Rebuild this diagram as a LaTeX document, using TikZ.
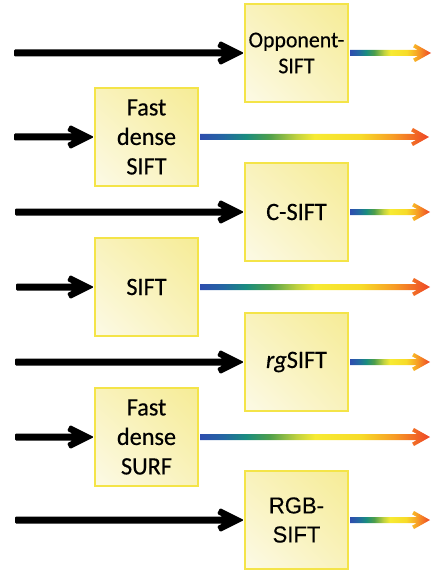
\documentclass[tikz,border=0pt]{standalone}
\usepackage{fontspec}
\setmainfont{Carlito}[FakeStretch=0.97,FakeBold=0.4]
\newfontfamily\arialf{Liberation Sans}[FakeStretch=0.96,FakeBold=0.3]
\usetikzlibrary{calc,shadings}
\definecolor{boxborder}{HTML}{F4E448}
\definecolor{boxUR}{HTML}{F6EC96}
\definecolor{boxMid}{HTML}{F9F2BC}
\definecolor{boxLL}{HTML}{FCFAE6}
\pgfdeclarehorizontalshading{rainbowarr}{100bp}{%
  rgb(0bp)=(0.18,0.30,0.68);
  rgb(25bp)=(0.18,0.30,0.68);
  rgb(30bp)=(0.14,0.40,0.64);
  rgb(35bp)=(0.10,0.55,0.50);
  rgb(40bp)=(0.30,0.62,0.30);
  rgb(46bp)=(0.75,0.82,0.25);
  rgb(50bp)=(0.97,0.92,0.20);
  rgb(60bp)=(0.97,0.86,0.16);
  rgb(67bp)=(0.97,0.62,0.15);
  rgb(75bp)=(0.93,0.27,0.15);
  rgb(100bp)=(0.93,0.27,0.15)}
\tikzset{
  featbox/.style={draw=boxborder, line width=2pt, minimum width=103pt,
    minimum height=98pt, inner sep=0pt, align=center, shade,
    upper right=boxUR, upper left=boxMid, lower right=boxMid, lower left=boxLL,
    font=\fontsize{25}{29.5}\selectfont},
  smalltext/.style={font=\fontsize{22.5}{26}\selectfont},
}
% black input arrow: #1 start coordinate, #2 target node
\newcommand\blackarr[2]{%
  \fill[black, rounded corners=1.2pt] let \p1=(#1), \p2=(#2.west) in
    (\x1,\y2+3.5pt) -- (\x2-21.5pt,\y2+3.5pt) -- (\x2-26.9pt,\y2+6.2pt)
    -- (\x2-24pt,\y2+12pt) -- (\x2,\y2) -- (\x2-24pt,\y2-12pt)
    -- (\x2-26.9pt,\y2-6.2pt) -- (\x2-21.5pt,\y2-3.5pt) -- (\x1,\y2-3.5pt) -- cycle;}
% gradient output arrow: #1 source node, #2 end coordinate
\newcommand\gradarr[2]{%
  \shade[shading=rainbowarr] let \p1=(#1.east), \p2=(#2) in
    (\x1+1pt,\y1+3pt) -- (\x2-13.1pt,\y1+3pt) -- (\x2-17.9pt,\y1+5.7pt)
    -- (\x2-16pt,\y1+9pt) -- (\x2,\y1) -- (\x2-16pt,\y1-9pt)
    -- (\x2-17.9pt,\y1-5.7pt) -- (\x2-13.1pt,\y1-3pt) -- (\x1+1pt,\y1-3pt) -- cycle;}
\begin{document}
\begin{tikzpicture}[x=1pt,y=-1pt]
\useasboundingbox (0,0) rectangle (433,572);
% boxes
\node[featbox, smalltext] (opp) at (296.5,53) {Opponent-\\SIFT};
\node[featbox] (fdsift) at (146.5,137) {Fast\\dense\\SIFT};
\node[featbox] (csift) at (296.5,212) {C-SIFT};
\node[featbox] (sift) at (146.5,287) {SIFT};
\node[featbox] (rgsift) at (296.5,362) {\textit{rg}SIFT};
\node[featbox] (fdsurf) at (146.5,437) {Fast\\dense\\SURF};
\node[featbox, font=\arialf\fontsize{23}{29}\selectfont] (rgbsift) at (296.5,520) {RGB-\\SIFT};
% start and end points
\coordinate (s1) at (14,53);
\coordinate (s2) at (14,137);
\coordinate (s3) at (15,212);
\coordinate (s4) at (16,287);
\coordinate (s5) at (15,362);
\coordinate (s6) at (15,437);
\coordinate (s7) at (15,520);
\coordinate (e1) at (431,53);
\coordinate (e2) at (429,137);
\coordinate (e3) at (430,212);
\coordinate (e4) at (430,287);
\coordinate (e5) at (430,362);
\coordinate (e6) at (430,437);
\coordinate (e7) at (430,520);
% arrows
\blackarr{s1}{opp}
\blackarr{s2}{fdsift}
\blackarr{s3}{csift}
\blackarr{s4}{sift}
\blackarr{s5}{rgsift}
\blackarr{s6}{fdsurf}
\blackarr{s7}{rgbsift}
\gradarr{opp}{e1}
\gradarr{fdsift}{e2}
\gradarr{csift}{e3}
\gradarr{sift}{e4}
\gradarr{rgsift}{e5}
\gradarr{fdsurf}{e6}
\gradarr{rgbsift}{e7}
\end{tikzpicture}
\end{document}
